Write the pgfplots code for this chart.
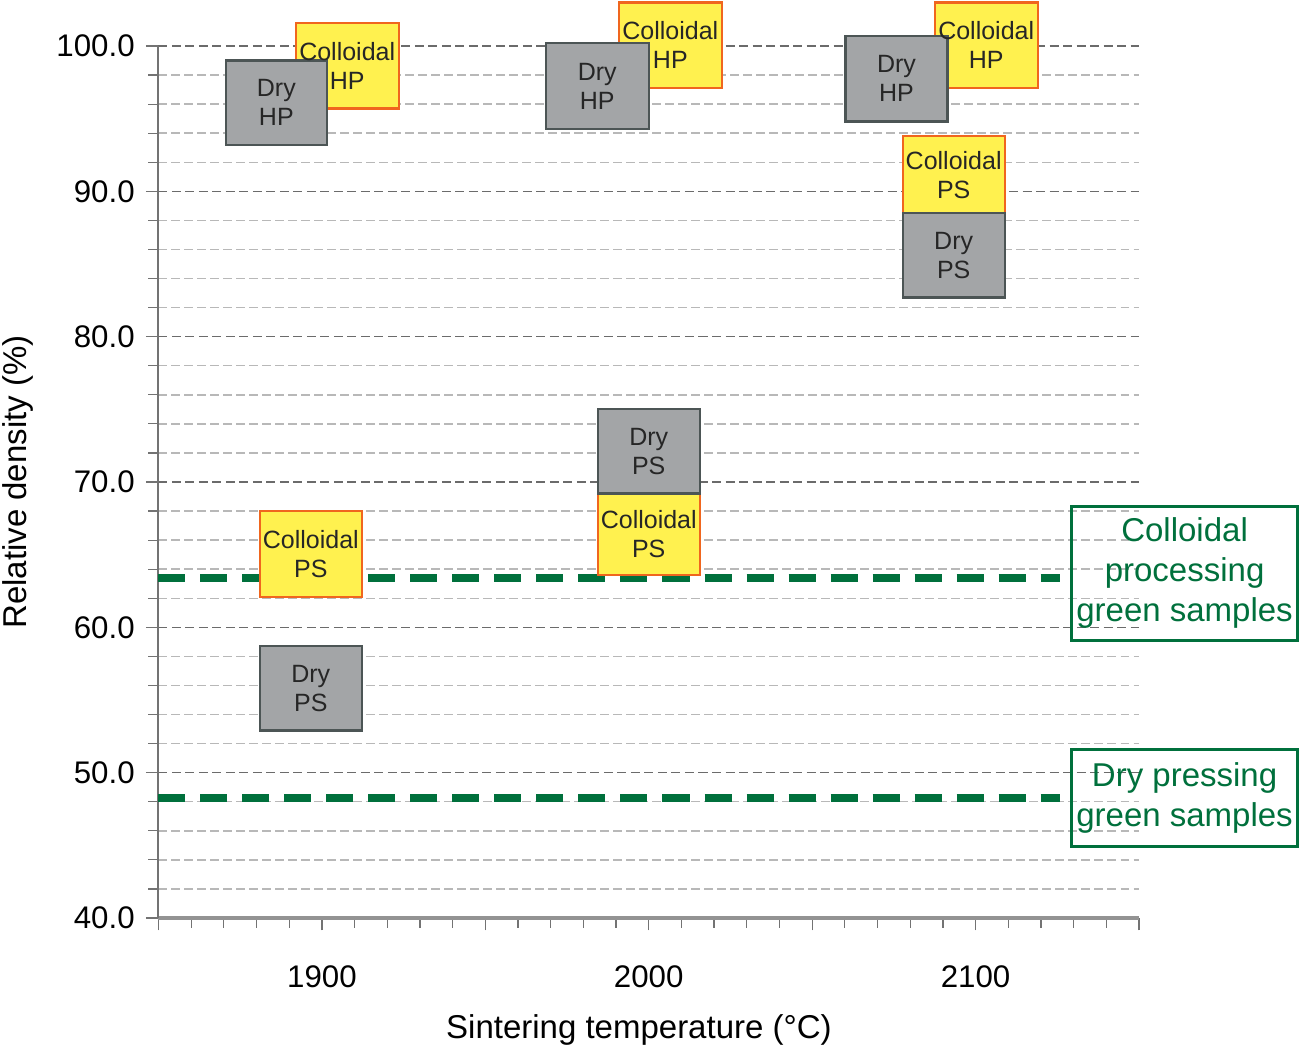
\documentclass[border=0pt]{standalone}
\usepackage{fontspec}
\setmainfont{Liberation Sans}
\usepackage{pgfplots}
\pgfplotsset{compat=1.18}
\definecolor{boxgray}{HTML}{A3A5A7}
\definecolor{boxgrayedge}{HTML}{4C5555}
\definecolor{boxyellow}{HTML}{FFF14F}
\definecolor{boxorange}{HTML}{F0661E}
\definecolor{dkgreen}{HTML}{00703C}
\tikzset{
  boxtext/.style={font=\fontsize{10}{11.6}\selectfont, align=center, text=black!85, inner sep=0pt},
  drybox/.style={fill=boxgray, draw=boxgrayedge, line width=0.9pt, line join=miter},
  colbox/.style={fill=boxyellow, draw=boxorange, line width=0.9pt, line join=miter},
}
\begin{document}
\begin{tikzpicture}
\begin{axis}[
  scale only axis,
  width=392.2pt, height=348.8pt,
  xmin=1850, xmax=2150, ymin=40, ymax=100,
  clip=false,
  axis x line*=bottom, axis y line*=left,
  x axis line style={-, draw=gray!85, line width=1.3pt},
  y axis line style={-, draw=gray!90!black, line width=0.8pt},
  xtick={1850,1900,1950,2000,2050,2100,2150},
  xticklabels={,1900,,2000,,2100,},
  minor x tick num=4,
  ytick={40,50,60,70,80,90,100},
  minor y tick num=4,
  tick align=outside,
  major tick length=5pt, minor tick length=4pt,
  tick style={draw=gray!90!black, line width=0.5pt},
  ymajorgrids, yminorgrids,
  major grid style={draw=black!58, dash pattern=on 3.6pt off 1.8pt, line width=0.65pt},
  minor grid style={draw=black!28, dash pattern=on 3.4pt off 1.8pt, line width=0.6pt},
  /pgf/number format/assume math mode=true,
  yticklabel style={/pgf/number format/fixed, /pgf/number format/fixed zerofill, /pgf/number format/precision=1, font=\fontsize{12.5}{14}\selectfont, xshift=-1pt},
  xticklabel style={font=\fontsize{12.5}{14}\selectfont, yshift=-10.6pt},
  xlabel={Sintering temperature (°C)},
  ylabel={Relative density (\%)},
  xlabel style={font=\fontsize{13.2}{16}\selectfont, at={(axis description cs:0.49,-0.1284)}, anchor=center},
  ylabel style={font=\fontsize{13.2}{16}\selectfont, at={(axis description cs:-0.1433,0.5)}, anchor=center},
]
% green reference lines
\addplot[dkgreen, line width=3.2pt, dash pattern=on 10.8pt off 6pt] coordinates {(1850,63.4) (2125.7,63.4)};
\addplot[dkgreen, line width=3.2pt, dash pattern=on 10.8pt off 6pt] coordinates {(1850,48.25) (2125.7,48.25)};
% 1900
\addplot[colbox] coordinates {(1892.0,95.7) (1923.5,95.7) (1923.5,101.6) (1892.0,101.6)} -- cycle;
\addplot[drybox] coordinates {(1870.6,93.2) (1901.5,93.2) (1901.5,99.0) (1870.6,99.0)} -- cycle;
\addplot[colbox] coordinates {(1881.0,62.1) (1912.2,62.1) (1912.2,68.0) (1881.0,68.0)} -- cycle;
\addplot[drybox] coordinates {(1881.0,52.9) (1912.2,52.9) (1912.2,58.7) (1881.0,58.7)} -- cycle;
% 2000
\addplot[colbox] coordinates {(1990.8,97.1) (2022.4,97.1) (2022.4,103.0) (1990.8,103.0)} -- cycle;
\addplot[drybox] coordinates {(1968.5,94.3) (2000.0,94.3) (2000.0,100.2) (1968.5,100.2)} -- cycle;
\addplot[colbox] coordinates {(1984.4,63.6) (2015.6,63.6) (2015.6,69.2) (1984.4,69.2)} -- cycle;
\addplot[drybox] coordinates {(1984.4,69.2) (2015.6,69.2) (2015.6,75.0) (1984.4,75.0)} -- cycle;
% 2100
\addplot[colbox] coordinates {(2087.5,97.1) (2119.0,97.1) (2119.0,103.0) (2087.5,103.0)} -- cycle;
\addplot[drybox] coordinates {(2060.2,94.8) (2091.4,94.8) (2091.4,100.7) (2060.2,100.7)} -- cycle;
\addplot[colbox] coordinates {(2077.7,88.5) (2108.9,88.5) (2108.9,93.8) (2077.7,93.8)} -- cycle;
\addplot[drybox] coordinates {(2077.7,82.7) (2108.9,82.7) (2108.9,88.5) (2077.7,88.5)} -- cycle;
% box texts
\node[boxtext] at (axis cs:1907.75,98.65) {Colloidal\\HP};
\node[boxtext] at (axis cs:1886.05,96.1) {Dry\\HP};
\node[boxtext] at (axis cs:1896.6,65.05) {Colloidal\\PS};
\node[boxtext] at (axis cs:1896.6,55.8) {Dry\\PS};
\node[boxtext] at (axis cs:2006.6,100.05) {Colloidal\\HP};
\node[boxtext] at (axis cs:1984.25,97.25) {Dry\\HP};
\node[boxtext] at (axis cs:2000.0,66.4) {Colloidal\\PS};
\node[boxtext] at (axis cs:2000.0,72.1) {Dry\\PS};
\node[boxtext] at (axis cs:2103.25,100.05) {Colloidal\\HP};
\node[boxtext] at (axis cs:2075.8,97.75) {Dry\\HP};
\node[boxtext] at (axis cs:2093.3,91.15) {Colloidal\\PS};
\node[boxtext] at (axis cs:2093.3,85.6) {Dry\\PS};
% right-hand labels
\draw[dkgreen, line width=1.2pt] (axis cs:2129.4,68.34) rectangle (axis cs:2198.5,59.12);
\node[font=\fontsize{13.2}{16}\selectfont, text=dkgreen, align=center, inner sep=0pt] at (axis cs:2163.95,63.73) {Colloidal\\processing\\green samples};
\draw[dkgreen, line width=1.2pt] (axis cs:2129.4,51.62) rectangle (axis cs:2198.5,44.94);
\node[font=\fontsize{13.2}{16}\selectfont, text=dkgreen, align=center, inner sep=0pt] at (axis cs:2163.95,48.28) {Dry pressing\\green samples};
\end{axis}
\pgfresetboundingbox
\path (-63.4pt,-52.8pt) rectangle (456.6pt,367.2pt);
\end{tikzpicture}
\end{document}
